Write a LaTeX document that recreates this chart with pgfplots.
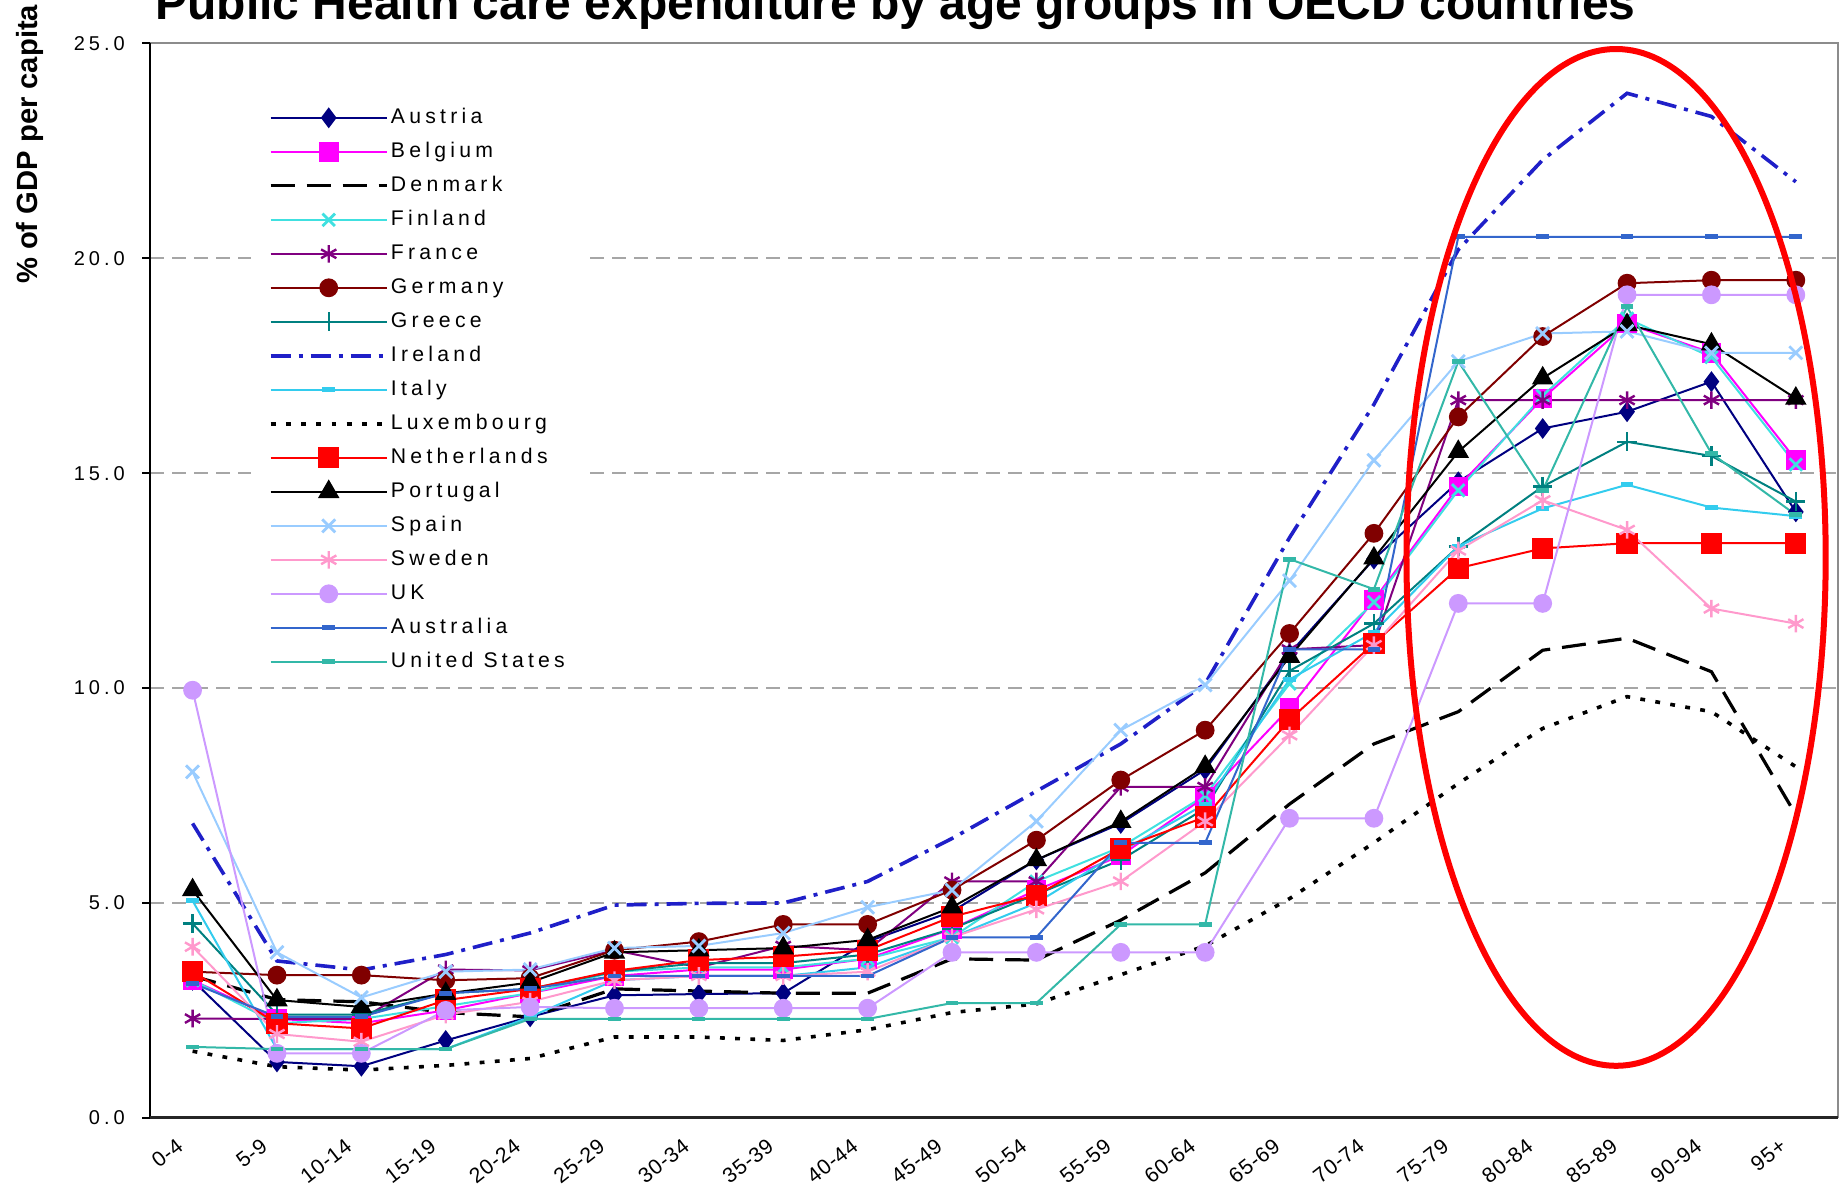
\documentclass[border=0pt]{standalone}
\usepackage{fontspec}
\setmainfont{Liberation Sans}
\newfontfamily\spacedsans[LetterSpace=20]{Liberation Sans}
\newfontfamily\agesans[LetterSpace=4]{Liberation Sans}
\usepackage{pgfplots}
\usepackage{pgfplotstable}
\pgfplotsset{compat=1.18}

\definecolor{cAut}{HTML}{000080}
\definecolor{cBel}{HTML}{FF00FF}
\definecolor{cFin}{HTML}{40E0E0}
\definecolor{cFra}{HTML}{800080}
\definecolor{cGer}{HTML}{800000}
\definecolor{cGre}{HTML}{008080}
\definecolor{cIre}{HTML}{1F1FC8}
\definecolor{cIta}{HTML}{33CCEE}
\definecolor{cNet}{HTML}{FF0000}
\definecolor{cSpa}{HTML}{99CCFF}
\definecolor{cSwe}{HTML}{FF99CC}
\definecolor{cUK}{HTML}{CC99FF}
\definecolor{cAus}{HTML}{3366CC}
\definecolor{cUS}{HTML}{33B8A8}
\definecolor{gridc}{HTML}{A6A6A6}
\definecolor{framec}{HTML}{8C8C8C}

% public health care spending per capita, % of GDP per capita, by age group
\pgfplotstableread{
idx Aut Bel Den Fin Fra Ger Gre Ire Ita Lux Net Por Spa Swe UK Aus US
0 3.20 3.20 3.30 3.20 2.31 3.40 4.52 6.85 5.05 1.55 3.40 5.30 8.05 3.98 9.95 3.13 1.65
1 1.30 2.30 2.75 2.20 2.30 3.32 2.40 3.65 1.60 1.19 2.20 2.74 3.85 1.95 1.50 2.35 1.60
2 1.20 2.20 2.70 2.30 2.30 3.32 2.40 3.44 1.60 1.11 2.08 2.58 2.80 1.77 1.50 2.35 1.60
3 1.80 2.50 2.45 2.60 3.45 3.20 2.90 3.80 1.60 1.22 2.74 2.89 3.40 2.40 2.50 2.90 1.60
4 2.35 2.90 2.35 2.90 3.43 3.25 3.00 4.30 2.35 1.38 3.00 3.15 3.45 2.70 2.58 3.00 2.30
5 2.85 3.30 3.00 3.40 3.90 3.90 3.40 4.95 3.20 1.88 3.42 3.85 3.95 3.20 2.55 3.30 2.30
6 2.88 3.45 2.95 3.50 3.50 4.10 3.60 4.99 3.30 1.88 3.67 3.90 4.00 3.30 2.55 3.30 2.30
7 2.90 3.45 2.90 3.50 4.00 4.50 3.60 5.00 3.30 1.80 3.75 3.95 4.30 3.30 2.55 3.30 2.30
8 4.10 3.70 2.90 3.70 3.90 4.50 3.80 5.50 3.50 2.05 3.90 4.14 4.90 3.40 2.55 3.30 2.30
9 4.80 4.40 3.70 4.20 5.50 5.30 4.40 6.50 4.20 2.45 4.68 4.90 5.30 4.20 3.85 4.20 2.67
10 6.00 5.30 3.67 5.50 5.50 6.46 5.20 7.60 5.00 2.65 5.18 6.00 6.90 4.85 3.85 4.20 2.67
11 6.85 6.10 4.60 6.30 7.70 7.86 6.00 8.70 6.20 3.33 6.27 6.89 9.02 5.50 3.85 6.40 4.50
12 8.10 7.47 5.70 7.50 7.70 9.02 7.20 10.10 7.30 4.00 7.00 8.17 10.07 6.90 3.85 6.40 4.50
13 10.80 9.53 7.30 10.10 10.90 11.27 10.40 13.50 10.20 5.10 9.26 10.73 12.50 8.90 6.97 10.90 13.00
14 13.00 12.05 8.70 12.00 11.00 13.60 11.50 16.60 11.30 6.40 11.04 13.02 15.30 11.00 6.97 10.90 12.30
15 14.80 14.69 9.45 14.60 16.70 16.31 13.29 20.20 13.30 7.78 12.79 15.50 17.60 13.20 11.97 20.50 17.60
16 16.04 16.74 10.88 16.80 16.70 18.18 14.69 22.29 14.18 9.06 13.25 17.21 18.25 14.37 11.97 20.50 14.60
17 16.43 18.48 11.16 18.60 16.70 19.42 15.73 23.84 14.73 9.80 13.37 18.45 18.30 13.68 19.15 20.50 18.87
18 17.13 17.80 10.38 17.70 16.70 19.49 15.40 23.30 14.20 9.45 13.37 18.00 17.80 11.85 19.15 20.50 15.46
19 14.10 15.31 7.05 15.20 16.70 19.49 14.34 21.78 14.00 8.17 13.37 16.74 17.80 11.50 19.15 20.50 14.03
}\spending

\begin{document}
\begin{tikzpicture}
\begin{axis}[
  at={(0,0)}, anchor=south west,
  scale only axis, width=421.9pt, height=268.6pt,
  clip=false,
  xmin=-0.5, xmax=19.5, ymin=0, ymax=25,
  axis line style={draw=none},
  xtick={0,...,19},
  xticklabels={0-4,5-9,10-14,15-19,20-24,25-29,30-34,35-39,40-44,45-49,50-54,55-59,60-64,65-69,70-74,75-79,80-84,85-89,90-94,95+},
  x tick style={draw=none},
  extra x ticks={-0.5,0.5,...,19.5},
  extra x tick labels={},
  extra x tick style={major tick length=1.5pt, tick style={black, line width=0.5pt, draw=black}, grid=none},
  ytick={0,5,...,25},
  y tick style={black, line width=0.5pt},
  major tick length=2pt,
  tick align=outside,
  xtick pos=bottom, ytick pos=left,
  ymajorgrids,
  major grid style={gridc, line width=0.5pt, dash pattern=on 3.3pt off 2.2pt},
  y tick label style={font=\spacedsans\fontsize{5}{6}\selectfont, inner sep=0pt, xshift=-4.2pt,
    /pgf/number format/.cd, fixed, fixed zerofill, precision=1, assume math mode=true},
  x tick label style={font=\agesans\fontsize{5.3}{6}\selectfont, inner sep=0pt,
    xshift=-4.3pt, yshift=-2.6pt, rotate=38, anchor=north east},
  ylabel={\% of GDP per capita},
  ylabel style={font=\bfseries\fontsize{7.3}{8.5}\selectfont, at={(axis description cs:-0.0713,0.906)}, anchor=center},
  every axis plot/.append style={line width=0.5pt},
  legend cell align=left,
  legend image code/.code={\draw[mark repeat=2,mark phase=2] plot coordinates {(0pt,0pt) (14.5pt,0pt) (29pt,0pt)};},
  legend style={at={(rel axis cs:0.0591,0.9505)}, anchor=north west, draw=none, fill=white,
    font=\spacedsans\fontsize{5.3}{6}\selectfont, inner xsep=4.5pt, inner ysep=2pt, row sep=2.3pt,
    nodes={inner sep=0.6pt, text height=4pt, text depth=1pt}},
]
\addplot[cAut, mark=diamond*, mark size=2.2pt] table[x=idx,y=Aut] {\spending};
\addlegendentry{Austria}
\addplot[cBel, mark=square*, mark size=2.2pt] table[x=idx,y=Bel] {\spending};
\addlegendentry{Belgium}
\addplot[black, line width=0.8pt, dash pattern=on 6pt off 3pt] table[x=idx,y=Den] {\spending};
\addlegendentry{Denmark}
\addplot[cFin, mark=x, mark size=2.2pt, mark options={line width=0.7pt}] table[x=idx,y=Fin] {\spending};
\addlegendentry{Finland}
\addplot[cFra, mark=asterisk, mark size=2.2pt, mark options={line width=0.6pt}] table[x=idx,y=Fra] {\spending};
\addlegendentry{France}
\addplot[cGer, mark=*, mark size=2.1pt] table[x=idx,y=Ger] {\spending};
\addlegendentry{Germany}
\addplot[cGre, mark=+, mark size=2.4pt, mark options={line width=0.6pt}] table[x=idx,y=Gre] {\spending};
\addlegendentry{Greece}
\addplot[cIre, line width=0.9pt, dash pattern=on 5pt off 2pt on 1pt off 2pt] table[x=idx,y=Ire] {\spending};
\addlegendentry{Ireland}
\addplot[cIta, mark=-, mark size=1.6pt, mark options={line width=1.2pt}] table[x=idx,y=Ita] {\spending};
\addlegendentry{Italy}
\addplot[black, line width=0.9pt, dash pattern=on 1.2pt off 2.6pt] table[x=idx,y=Lux] {\spending};
\addlegendentry{Luxembourg}
\addplot[cNet, mark=square*, mark size=2.4pt] table[x=idx,y=Net] {\spending};
\addlegendentry{Netherlands}
\addplot[black, mark=triangle*, mark size=2.6pt] table[x=idx,y=Por] {\spending};
\addlegendentry{Portugal}
\addplot[cSpa, mark=x, mark size=2.3pt, mark options={line width=0.7pt}] table[x=idx,y=Spa] {\spending};
\addlegendentry{Spain}
\addplot[cSwe, mark=asterisk, mark size=2.2pt, mark options={line width=0.6pt}] table[x=idx,y=Swe] {\spending};
\addlegendentry{Sweden}
\addplot[cUK, mark=*, mark size=2.1pt] table[x=idx,y=UK] {\spending};
\addlegendentry{UK}
\addplot[cAus, mark=-, mark size=1.6pt, mark options={line width=1.2pt}] table[x=idx,y=Aus] {\spending};
\addlegendentry{Australia}
\addplot[cUS, mark=-, mark size=1.6pt, mark options={line width=1.2pt}] table[x=idx,y=US] {\spending};
\addlegendentry{United States}

% frame: dark left and bottom axes, grey top and right edges
\draw[framec, line width=0.5pt] (rel axis cs:0,1) -- (rel axis cs:1,1) -- (rel axis cs:1,0);
\draw[black, line width=0.5pt] (rel axis cs:0,0) -- (rel axis cs:0,1);
\draw[black!85, line width=0.8pt] (rel axis cs:0,0) -- (rel axis cs:1,0);
\coordinate (ring) at (axis cs:16.87,13.04);
\end{axis}
% highlight of the oldest age groups
\draw[red, line width=1.5pt] (ring) ellipse [x radius=52.4pt, y radius=127.1pt];
\node[anchor=base west, font=\bfseries\fontsize{12}{14}\selectfont] at (-2.3pt,274.6pt)
  {Public Health care expenditure by age groups in OECD countries};
\pgfresetboundingbox
\useasboundingbox (-37.6pt,-18.85pt) rectangle (422.65pt,279.45pt);
\end{tikzpicture}
\end{document}
